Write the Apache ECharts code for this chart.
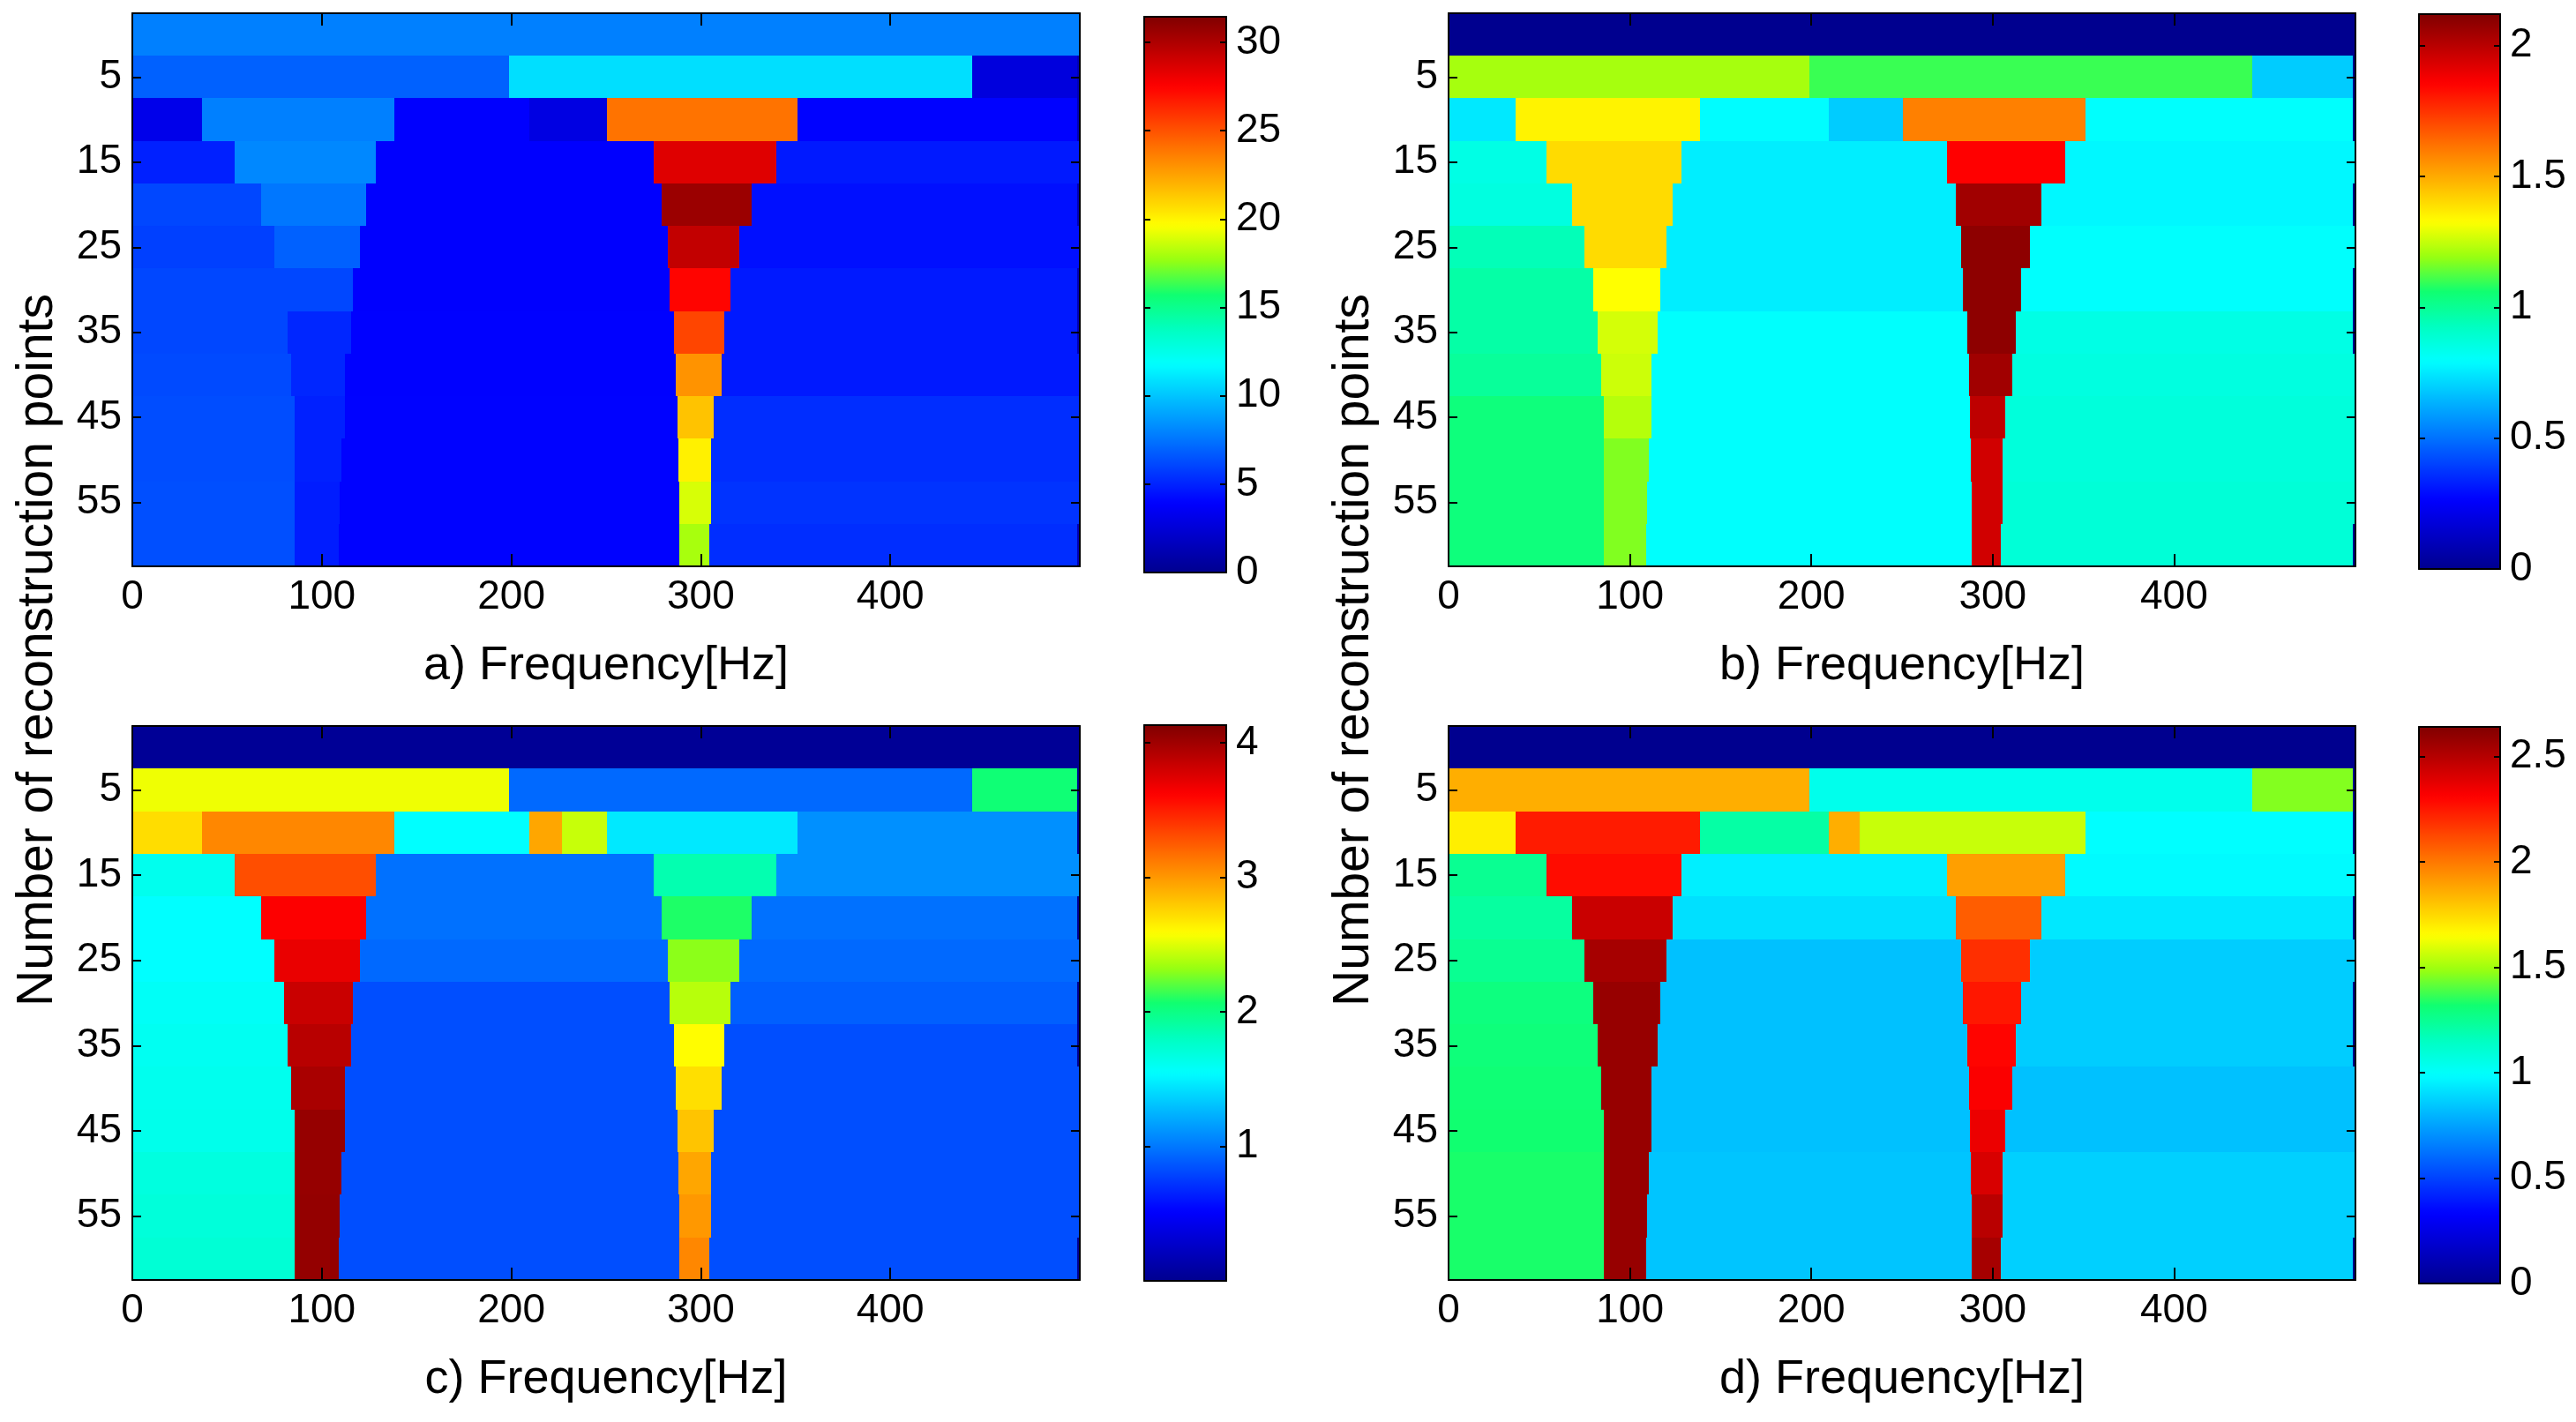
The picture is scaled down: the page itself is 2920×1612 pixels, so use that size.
<!DOCTYPE html>
<html>
<head>
<meta charset="utf-8">
<title>Number of reconstruction points vs frequency</title>
<script src="https://cdn.jsdelivr.net/npm/echarts@6/dist/echarts.min.js"></script>
<style>
  html, body { margin: 0; padding: 0; background: #fff; }
  #chart { width: 2920px; height: 1612px; }
</style>
</head>
<body>
<div id="chart"></div>
<script>
// axis ticks
const freqTicks = [0, 100, 200, 300, 400];
const pointTicks = [5, 15, 25, 35, 45, 55];

// one row per number of reconstruction points
const rowPoints = [0, 5, 10, 15, 20, 25, 30, 35, 40, 45, 50, 55, 60];

// segment edges in Hz for every row (shared by the four panels)
const rowEdges = [
  [0, 500],
  [0, 199, 443, 498.5, 500],
  [0, 37, 138.5, 209.5, 226.5, 250.5, 351, 498.5, 500],
  [0, 54, 128.5, 275, 340, 500],
  [0, 68, 123.5, 279.5, 327, 498.5, 500],
  [0, 75, 120, 282.5, 320.5, 500],
  [0, 80, 116.5, 283.5, 315.5, 498.5, 500],
  [0, 82, 115.5, 286, 312.5, 498.5, 500],
  [0, 84, 112, 287, 311, 500],
  [0, 85.5, 112, 287.5, 307, 500],
  [0, 85.5, 110.5, 288, 305.6, 500],
  [0, 85.5, 109.5, 288.5, 305.6, 500],
  [0, 85.5, 109, 288.5, 304.5, 498.5, 500]
];

// a)
const valuesA = [
  [7.85],
  [6.9, 10.8, 2.75, 1.5],
  [3.2, 7.85, 3.9, 2.9, 2.9, 24.0, 4.0, 1.5],
  [4.9, 8.1, 3.9, 28.5, 4.7],
  [6.1, 7.6, 3.9, 30.6, 4.4, 1.5],
  [5.9, 6.9, 3.9, 29.4, 4.4],
  [6.1, 6.1, 3.9, 27.4, 4.7, 1.5],
  [6.1, 5.1, 3.95, 25.4, 4.7, 1.5],
  [6.2, 5.1, 3.95, 23.0, 4.7],
  [6.3, 4.9, 4.0, 21.5, 5.3],
  [6.3, 4.9, 4.0, 20.1, 5.3],
  [6.35, 4.8, 4.0, 18.9, 5.5],
  [6.35, 4.8, 4.0, 18.0, 5.3, 1.5]
];
// b)
const valuesB = [
  [0],
  [1.21, 1.10, 0.69, 0],
  [0.75, 1.35, 0.79, 0.69, 0.69, 1.59, 0.80, 0],
  [0.85, 1.40, 0.76, 1.855, 0.78],
  [0.86, 1.40, 0.76, 2.05, 0.78, 0],
  [0.94, 1.40, 0.76, 2.09, 0.80],
  [0.97, 1.325, 0.76, 2.09, 0.80, 0],
  [0.97, 1.27, 0.80, 2.09, 0.85, 0],
  [0.99, 1.26, 0.80, 2.05, 0.86],
  [1.04, 1.23, 0.80, 1.99, 0.87],
  [1.04, 1.17, 0.80, 1.95, 0.87],
  [1.04, 1.17, 0.80, 1.95, 0.88],
  [1.04, 1.17, 0.80, 1.95, 0.88, 0]
];
// c)
const valuesC = [
  [0.03],
  [2.54, 0.94, 2.05, 0.03],
  [2.72, 3.07, 1.55, 2.94, 2.44, 1.46, 1.10, 0.03],
  [1.62, 3.30, 0.97, 1.86, 1.10],
  [1.55, 3.62, 0.97, 2.09, 0.97, 0.03],
  [1.55, 3.70, 0.94, 2.30, 0.94],
  [1.58, 3.83, 0.83, 2.40, 0.90, 0.03],
  [1.60, 3.90, 0.83, 2.59, 0.83, 0.03],
  [1.62, 3.96, 0.83, 2.71, 0.83],
  [1.63, 4.04, 0.83, 2.82, 0.83],
  [1.68, 4.04, 0.83, 2.94, 0.83],
  [1.70, 4.05, 0.83, 3.00, 0.83],
  [1.72, 4.05, 0.83, 3.07, 0.83, 0.03]
];
// d)
const valuesD = [
  [0],
  [1.86, 1.04, 1.46, 0],
  [1.69, 2.24, 1.21, 1.86, 1.56, 1.56, 0.99, 0],
  [1.25, 2.28, 0.95, 1.90, 0.98],
  [1.22, 2.45, 0.91, 2.07, 0.93, 0],
  [1.25, 2.54, 0.83, 2.19, 0.86],
  [1.29, 2.58, 0.83, 2.25, 0.86, 0],
  [1.30, 2.58, 0.83, 2.30, 0.86, 0],
  [1.31, 2.58, 0.83, 2.32, 0.83],
  [1.32, 2.58, 0.83, 2.36, 0.83],
  [1.33, 2.58, 0.84, 2.41, 0.87],
  [1.33, 2.58, 0.84, 2.49, 0.87],
  [1.33, 2.58, 0.84, 2.54, 0.87, 0]
];

// colorbar limits and ticks
const colorRangeA = [0, 31.45];
const colorRangeB = [0, 2.12];
const colorRangeC = [0, 4.13];
const colorRangeD = [0, 2.64];
const colorTicksA = [0, 5, 10, 15, 20, 25, 30];
const colorTicksB = [0, 0.5, 1, 1.5, 2];
const colorTicksC = [1, 2, 3, 4];
const colorTicksD = [0, 0.5, 1, 1.5, 2, 2.5];

// jet
const jetColors = [
  '#00008f', '#0000c7', '#0000ff', '#0040ff', '#0080ff', '#00bfff', '#00ffff',
  '#00ffc0', '#10ff70', '#98ff10', '#ffff00', '#ffbf00', '#ff8000', '#ff4000',
  '#ff0000', '#bf0000', '#800000'
];

const FONT_TICK = "'Liberation Sans Narrow', 'Arial Narrow', 'Liberation Sans', Arial, sans-serif";
const FONT_TEXT = "'Liberation Sans', Arial, Helvetica, sans-serif";
const ROW_HALF = 2.5;

const panels = [
  { name: 'a) Frequency[Hz]', values: valuesA, range: colorRangeA, ticks: colorTicksA,
    grid: { left: 150, top: 15, width: 1074, height: 627 },
    bar: { left: 1297, top: 19, width: 93, height: 630 } },
  { name: 'b) Frequency[Hz]', values: valuesB, range: colorRangeB, ticks: colorTicksB,
    grid: { left: 1642, top: 15, width: 1028, height: 627 },
    bar: { left: 2742, top: 16, width: 92, height: 629 } },
  { name: 'c) Frequency[Hz]', values: valuesC, range: colorRangeC, ticks: colorTicksC,
    grid: { left: 150, top: 823, width: 1074, height: 628 },
    bar: { left: 1297, top: 822, width: 93, height: 630 } },
  { name: 'd) Frequency[Hz]', values: valuesD, range: colorRangeD, ticks: colorTicksD,
    grid: { left: 1642, top: 823, width: 1028, height: 628 },
    bar: { left: 2742, top: 824, width: 92, height: 631 } }
];

function buildCells(values) {
  const cells = [];
  rowEdges.forEach((edges, r) => {
    for (let k = 0; k < edges.length - 1; k++) {
      cells.push([edges[k], edges[k + 1], rowPoints[r], values[r][k]]);
    }
  });
  return cells;
}

function renderCell(params, api) {
  const y = api.value(2);
  const p0 = api.coord([api.value(0), y - ROW_HALF]);
  const p1 = api.coord([api.value(1), y + ROW_HALF]);
  const x0 = Math.round(Math.min(p0[0], p1[0]));
  const x1 = Math.round(Math.max(p0[0], p1[0]));
  const y0 = Math.round(Math.min(p0[1], p1[1]));
  const y1 = Math.round(Math.max(p0[1], p1[1]));
  return {
    type: 'rect',
    shape: { x: x0, y: y0, width: x1 - x0, height: y1 - y0 },
    style: { fill: api.visual('color') }
  };
}

const blackLine = { onZero: false, lineStyle: { color: '#000', width: 2 } };
const tickFont = { color: '#000', fontSize: 46, fontFamily: FONT_TICK };

const grid = [], xAxis = [], yAxis = [], series = [], visualMap = [];

panels.forEach((p, i) => {
  // heat map panel
  const gi = grid.length;
  grid.push(Object.assign({}, p.grid));
  const xi = xAxis.length;
  xAxis.push({
    type: 'value', gridIndex: gi, position: 'bottom', min: 0, max: 500, z: 6,
    name: p.name, nameLocation: 'middle', nameGap: 86,
    nameTextStyle: { color: '#000', fontSize: 54, fontFamily: FONT_TEXT },
    axisLine: blackLine,
    axisTick: { inside: true, length: 14, customValues: freqTicks, lineStyle: { color: '#000', width: 2 } },
    axisLabel: Object.assign({ customValues: freqTicks, margin: 12 }, tickFont),
    splitLine: { show: false }
  });
  xAxis.push({
    type: 'value', gridIndex: gi, position: 'top', min: 0, max: 500, z: 6,
    axisLine: blackLine,
    axisTick: { inside: true, length: 14, customValues: freqTicks, lineStyle: { color: '#000', width: 2 } },
    axisLabel: { show: false },
    splitLine: { show: false }
  });
  const yi = yAxis.length;
  yAxis.push({
    type: 'value', gridIndex: gi, position: 'left', inverse: true, min: -2.5, max: 62.5, z: 6,
    axisLine: blackLine,
    axisTick: { inside: true, length: 10, customValues: pointTicks, lineStyle: { color: '#000', width: 2 } },
    axisLabel: Object.assign({ customValues: pointTicks, margin: 12 }, tickFont),
    splitLine: { show: false }
  });
  yAxis.push({
    type: 'value', gridIndex: gi, position: 'right', inverse: true, min: -2.5, max: 62.5, z: 6,
    axisLine: blackLine,
    axisTick: { inside: true, length: 10, customValues: pointTicks, lineStyle: { color: '#000', width: 2 } },
    axisLabel: { show: false },
    splitLine: { show: false }
  });
  series.push({
    type: 'custom',
    name: p.name,
    xAxisIndex: xi,
    yAxisIndex: yi,
    renderItem: renderCell,
    encode: { x: [0, 1], y: 2 },
    data: buildCells(p.values),
    clip: true
  });
  visualMap.push({
    type: 'continuous',
    seriesIndex: i,
    dimension: 3,
    min: p.range[0],
    max: p.range[1],
    calculable: false,
    orient: 'vertical',
    left: p.bar.left,
    top: p.bar.top,
    itemWidth: p.bar.width,
    itemHeight: p.bar.height,
    padding: 0,
    inRange: { color: jetColors }
  });

  // colorbar frame + ticks
  const bi = grid.length;
  grid.push(Object.assign({}, p.bar));
  xAxis.push({ type: 'value', gridIndex: bi, position: 'bottom', min: 0, max: 1, z: 6,
    axisLine: blackLine, axisTick: { show: false }, axisLabel: { show: false }, splitLine: { show: false } });
  xAxis.push({ type: 'value', gridIndex: bi, position: 'top', min: 0, max: 1, z: 6,
    axisLine: blackLine, axisTick: { show: false }, axisLabel: { show: false }, splitLine: { show: false } });
  yAxis.push({
    type: 'value', gridIndex: bi, position: 'right', min: p.range[0], max: p.range[1], z: 6,
    axisLine: blackLine,
    axisTick: { inside: true, length: 7, customValues: p.ticks, lineStyle: { color: '#000', width: 2 } },
    axisLabel: Object.assign({ customValues: p.ticks, margin: 11 }, tickFont),
    splitLine: { show: false }
  });
  yAxis.push({
    type: 'value', gridIndex: bi, position: 'left', min: p.range[0], max: p.range[1], z: 6,
    axisLine: blackLine,
    axisTick: { inside: true, length: 7, customValues: p.ticks, lineStyle: { color: '#000', width: 2 } },
    axisLabel: { show: false },
    splitLine: { show: false }
  });
});

const yTitle = 'Number of reconstruction points';

const chart = echarts.init(document.getElementById('chart'));
chart.setOption({
  backgroundColor: '#fff',
  animation: false,
  grid: grid,
  xAxis: xAxis,
  yAxis: yAxis,
  visualMap: visualMap,
  series: series,
  graphic: [
    { type: 'text', x: 43, y: 737, rotation: Math.PI / 2,
      style: { text: yTitle, fontSize: 57, fontFamily: FONT_TEXT, fill: '#000', align: 'center', verticalAlign: 'middle' } },
    { type: 'text', x: 1535, y: 737, rotation: Math.PI / 2,
      style: { text: yTitle, fontSize: 57, fontFamily: FONT_TEXT, fill: '#000', align: 'center', verticalAlign: 'middle' } }
  ]
});
window.addEventListener('resize', () => chart.resize());
</script>
</body>
</html>
